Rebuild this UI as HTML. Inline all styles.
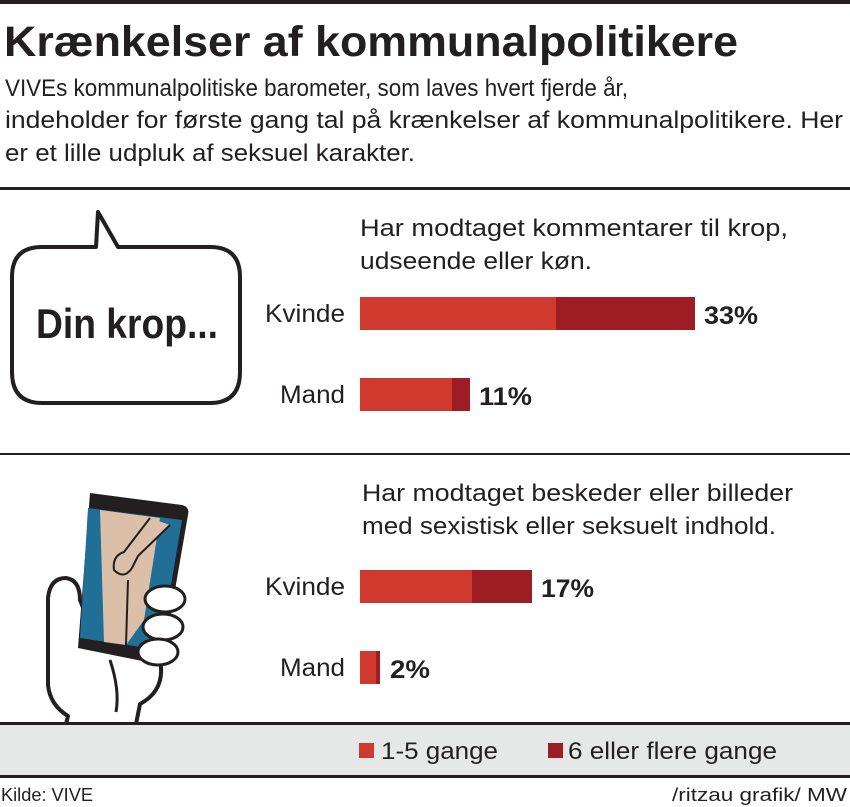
<!DOCTYPE html>
<html><head><meta charset="utf-8"><style>
html,body{margin:0;padding:0;background:#fff;}
svg{display:block;}
text{font-family:"Liberation Sans",sans-serif;fill:#231f20;}
</style></head><body>
<svg width="850" height="807" viewBox="0 0 850 807" xmlns="http://www.w3.org/2000/svg">
<rect x="0" y="0" width="850" height="4" fill="#231f20"/>
<text x="4" y="56" font-size="43" font-weight="bold" textLength="734" lengthAdjust="spacingAndGlyphs">Krænkelser af kommunalpolitikere</text>
<text x="5" y="96" font-size="24" textLength="623" lengthAdjust="spacingAndGlyphs">VIVEs kommunalpolitiske barometer, som laves hvert fjerde år,</text>
<text x="5" y="128" font-size="24" textLength="838" lengthAdjust="spacingAndGlyphs">indeholder for første gang tal på krænkelser af kommunalpolitikere. Her</text>
<text x="5" y="161" font-size="24" textLength="410" lengthAdjust="spacingAndGlyphs">er et lille udpluk af seksuel karakter.</text>
<rect x="0" y="187" width="850" height="3" fill="#231f20"/>

<!-- speech bubble -->
<path d="M42,247 L96,247 L98,212 L118,247 L210,247 Q240,247 240,277 L240,372 Q240,403 210,403 L42,403 Q12,403 12,372 L12,277 Q12,247 42,247 Z" fill="#fff" stroke="#231f20" stroke-width="4" stroke-linejoin="round"/>
<text x="36" y="338" font-size="42" font-weight="bold" textLength="182" lengthAdjust="spacingAndGlyphs">Din krop...</text>

<text x="360" y="236" font-size="24" textLength="428" lengthAdjust="spacingAndGlyphs">Har modtaget kommentarer til krop,</text>
<text x="360" y="269" font-size="24" textLength="232" lengthAdjust="spacingAndGlyphs">udseende eller køn.</text>
<text x="345" y="322" font-size="25" text-anchor="end" textLength="80" lengthAdjust="spacingAndGlyphs">Kvinde</text>
<rect x="360" y="297" width="196" height="33" fill="#d0392e"/>
<rect x="556" y="297" width="139" height="33" fill="#9c1d23"/>
<text x="704" y="324" font-size="25" font-weight="bold" textLength="54" lengthAdjust="spacingAndGlyphs">33%</text>
<text x="345" y="403" font-size="25" text-anchor="end" textLength="65" lengthAdjust="spacingAndGlyphs">Mand</text>
<rect x="360" y="378" width="92" height="33" fill="#d0392e"/>
<rect x="452" y="378" width="18" height="33" fill="#9c1d23"/>
<text x="479" y="405" font-size="25" font-weight="bold" textLength="53" lengthAdjust="spacingAndGlyphs">11%</text>

<rect x="0" y="453" width="850" height="2" fill="#231f20"/>

<!-- hand -->
<path d="M66,724 L68,716 Q50,705 48,685 L48,598 Q50,578 66,578 Q80,580 80,600 L100,650 L160,660 Q166,690 140,704 L136,724 Z" fill="#fff" stroke="#231f20" stroke-width="4" stroke-linejoin="round"/>
<!-- phone -->
<path d="M90,493 L182,505 Q190,507 188,515 L162,665 L78,648 Z" fill="#231f20"/>
<path d="M88,508 L182,520 L160,650 L80,638 Z" fill="#1f6f97"/>
<path d="M100,510 L160,518 L144,620 L126,645 L104,642 Z" fill="#dbbfa8"/>
<line x1="128" y1="580" x2="126" y2="645" stroke="#231f20" stroke-width="2"/>
<path d="M150,518 L124,552 Q112,556 114,570 Q124,580 132,568 L138,556 L170,525" fill="#dbbfa8" stroke="#231f20" stroke-width="2"/>
<path d="M110,660 Q120,690 116,712" fill="none" stroke="#231f20" stroke-width="3"/>
<ellipse cx="165" cy="599" rx="20" ry="13" fill="#fff" stroke="#231f20" stroke-width="3"/>
<ellipse cx="163" cy="627" rx="20" ry="13" fill="#fff" stroke="#231f20" stroke-width="3"/>
<ellipse cx="158" cy="652" rx="20" ry="13" fill="#fff" stroke="#231f20" stroke-width="3"/>

<text x="362" y="501" font-size="24" textLength="431" lengthAdjust="spacingAndGlyphs">Har modtaget beskeder eller billeder</text>
<text x="362" y="534" font-size="24" textLength="414" lengthAdjust="spacingAndGlyphs">med sexistisk eller seksuelt indhold.</text>
<text x="345" y="595" font-size="25" text-anchor="end" textLength="80" lengthAdjust="spacingAndGlyphs">Kvinde</text>
<rect x="360" y="570" width="112" height="33" fill="#d0392e"/>
<rect x="472" y="570" width="60" height="33" fill="#9c1d23"/>
<text x="541" y="597" font-size="25" font-weight="bold" textLength="53" lengthAdjust="spacingAndGlyphs">17%</text>
<text x="345" y="676" font-size="25" text-anchor="end" textLength="65" lengthAdjust="spacingAndGlyphs">Mand</text>
<rect x="360" y="651" width="16" height="33" fill="#d0392e"/>
<rect x="376" y="651" width="4" height="33" fill="#9c1d23"/>
<text x="390" y="678" font-size="25" font-weight="bold" textLength="40" lengthAdjust="spacingAndGlyphs">2%</text>

<rect x="0" y="722" width="850" height="3" fill="#231f20"/>
<rect x="0" y="725" width="850" height="50" fill="#e6e7e7"/>
<rect x="359" y="743" width="15" height="15" fill="#d0392e"/>
<text x="381" y="759" font-size="24" textLength="117" lengthAdjust="spacingAndGlyphs">1-5 gange</text>
<rect x="548" y="743" width="15" height="15" fill="#9c1d23"/>
<text x="568" y="759" font-size="24" textLength="209" lengthAdjust="spacingAndGlyphs">6 eller flere gange</text>
<rect x="0" y="775" width="850" height="3" fill="#231f20"/>
<text x="1" y="801" font-size="18" textLength="92" lengthAdjust="spacingAndGlyphs">Kilde: VIVE</text>
<text x="847" y="801" font-size="18" text-anchor="end" textLength="175" lengthAdjust="spacingAndGlyphs">/ritzau grafik/ MW</text>
</svg>
</body></html>
